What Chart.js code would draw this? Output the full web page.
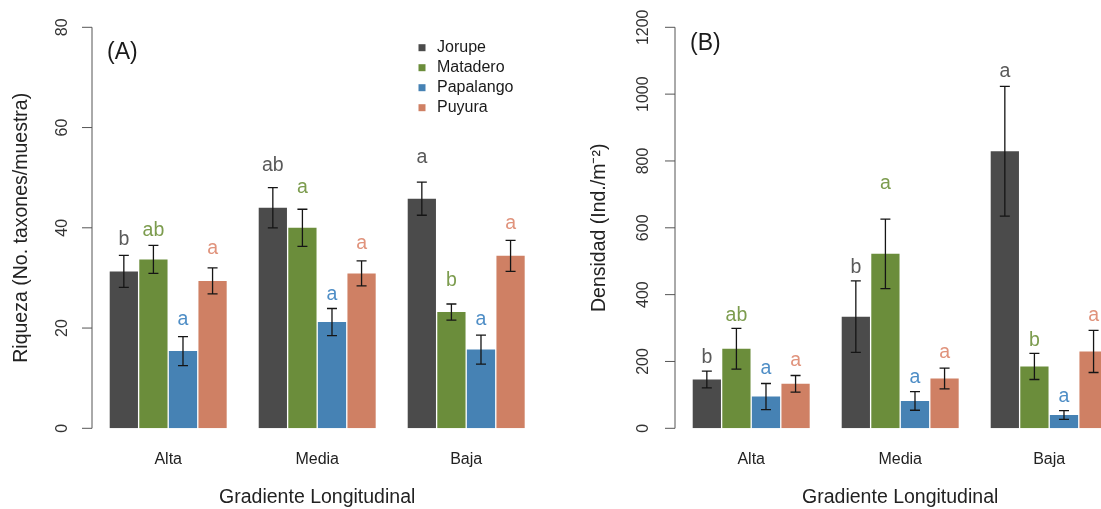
<!DOCTYPE html>
<html>
<head>
<meta charset="utf-8">
<script src="https://cdn.jsdelivr.net/npm/chart.js@4/dist/chart.umd.min.js"></script>
<style>
html,body{margin:0;padding:0;background:#fff;overflow:hidden;width:1101px;height:509px}
.panel{position:absolute;top:0;width:550px;height:509px}
#pA{left:0}
#pB{left:583px}
</style>
</head>
<body>
<div class="panel" id="pA"><canvas id="cA" width="550" height="509"></canvas></div>
<div class="panel" id="pB"><canvas id="cB" width="550" height="509"></canvas></div>
<script>
// ===================== DATOS =====================
const zonas=['Alta','Media','Baja'];
const sitios=['Jorupe','Matadero','Papalango','Puyura'];

// (A) riqueza: media y error estandar por sitio
const riqJorupe=[31.3,44.0,45.8];
const riqMatadero=[33.7,40.0,23.2];
const riqPapalango=[15.4,21.2,15.7];
const riqPuyura=[29.4,30.9,34.4];
const errRiqJorupe=[3.2,4.0,3.3];
const errRiqMatadero=[2.8,3.7,1.6];
const errRiqPapalango=[2.9,2.7,2.9];
const errRiqPuyura=[2.6,2.5,3.1];
const letRiqJorupe=['b','ab','a'];
const letRiqMatadero=['ab','a','b'];
const letRiqPapalango=['a','a','a'];
const letRiqPuyura=['a','a','a'];
// altura (en unidades del eje) donde va cada letra
const posLetRiqJorupe=[36.6,51.4,52.9];
const posLetRiqMatadero=[38.4,46.9,28.4];
const posLetRiqPapalango=[20.6,25.6,20.7];
const posLetRiqPuyura=[34.8,35.8,39.7];
const ticksRiq=[0,20,40,60,80];

// (B) densidad
const denJorupe=[146,334,829];
const denMatadero=[238,522,185];
const denPapalango=[95,82,40];
const denPuyura=[133,149,230];
const errDenJorupe=[25,107,194];
const errDenMatadero=[61,104,39];
const errDenPapalango=[39,28,13];
const errDenPuyura=[25,31,63];
const letDenJorupe=['b','b','a'];
const letDenMatadero=['ab','a','b'];
const letDenPapalango=['a','a','a'];
const letDenPuyura=['a','a','a'];
const posLetDenJorupe=[194,464,1050];
const posLetDenMatadero=[322,715,246];
const posLetDenPapalango=[162,136,80];
const posLetDenPuyura=[187,209,322];
const ticksDen=[0,200,400,600,800,1000,1200];

// ===================== ESTILO =====================
const FONT='"Liberation Sans", Arial, Helvetica, sans-serif';
const colores=['#4b4b4b','#6b8d3b','#4682b4','#cf8064'];
const coloresLetra=['#5a5a5a','#7c9c4e','#4f8ec6','#e0937c'];
const AXIS_GAP=1.7;

// error bars, letras, eje y estilo R, etiqueta de panel, leyenda
function extras(o){
  return {id:'extras',afterDraw(chart){
    const ctx=chart.ctx, ys=chart.scales.y, ca=chart.chartArea;
    ctx.save();
    sitios.forEach((s,i)=>{
      chart.getDatasetMeta(i).data.forEach((bar,j)=>{
        const v=o.valores[i][j], e=o.errores[i][j];
        const yT=ys.getPixelForValue(v+e), yB=ys.getPixelForValue(v-e);
        ctx.strokeStyle='#151515';ctx.lineWidth=1.3;
        ctx.beginPath();
        ctx.moveTo(bar.x,yT);ctx.lineTo(bar.x,yB);
        ctx.moveTo(bar.x-5,yT);ctx.lineTo(bar.x+5,yT);
        ctx.moveTo(bar.x-5,yB);ctx.lineTo(bar.x+5,yB);
        ctx.stroke();
        ctx.fillStyle=coloresLetra[i];ctx.font='19.5px '+FONT;
        ctx.textAlign='center';ctx.textBaseline='alphabetic';
        ctx.fillText(o.letras[i][j],bar.x,ys.getPixelForValue(o.posLetras[i][j]));
      });
    });
    // eje y
    const ax=ca.left-AXIS_GAP;
    const yMin=ys.getPixelForValue(o.ticks[0]), yMax=ys.getPixelForValue(o.ticks[o.ticks.length-1]);
    ctx.strokeStyle='#555';ctx.lineWidth=1;
    ctx.beginPath();ctx.moveTo(ax,yMin);ctx.lineTo(ax,yMax);
    o.ticks.forEach(t=>{const y=ys.getPixelForValue(t);ctx.moveTo(ax-10,y);ctx.lineTo(ax,y);});
    ctx.stroke();
    ctx.fillStyle='#333';ctx.font='16px '+FONT;ctx.textAlign='center';ctx.textBaseline='middle';
    o.ticks.forEach(t=>{
      ctx.save();ctx.translate(ax-o.tickDist,ys.getPixelForValue(t));ctx.rotate(-Math.PI/2);
      ctx.fillText(String(t),0,0);ctx.restore();
    });
    // (A) / (B)
    ctx.fillStyle='#1a1a1a';ctx.font='23px '+FONT;ctx.textAlign='left';ctx.textBaseline='middle';
    ctx.fillText(o.etiqueta,ax+15,o.etiquetaY);
    // leyenda
    if(o.leyenda){
      ctx.font='16px '+FONT;
      chart.data.datasets.forEach((d,i)=>{
        const y=47.7+i*20;
        ctx.fillStyle=d.backgroundColor;ctx.fillRect(ax+326.5,y-3.5,7,7);
        ctx.fillStyle='#1a1a1a';ctx.fillText(d.label,ax+345,y);
      });
    }
    ctx.restore();
  }};
}

function buildChart(id,o){
  const datasets=sitios.map((s,i)=>({label:s,data:o.valores[i],backgroundColor:colores[i],
    barPercentage:0.955,categoryPercentage:0.794}));
  return new Chart(document.getElementById(id),{type:'bar',
    data:{labels:zonas,datasets},
    options:{responsive:false,animation:false,devicePixelRatio:1,
      layout:{padding:{top:27.3,right:9.3,left:0,bottom:0}},
      plugins:{legend:{display:false},tooltip:{enabled:false}},
      scales:{
        x:{grid:{display:false,drawTicks:false},border:{display:false},
           ticks:{color:'#222',font:{family:FONT,size:16},padding:21.4},
           title:{display:true,text:'Gradiente Longitudinal',color:'#222',font:{family:FONT,size:19.5},padding:0},
           afterFit:s=>{s.height=80.7}},
        y:{min:o.ticks[0],max:o.ticks[o.ticks.length-1],
           afterBuildTicks:s=>{s.ticks=o.ticks.map(v=>({value:v}))},
           grid:{display:false},border:{display:false},ticks:{display:false},
           title:{display:true,text:o.tituloY,color:'#222',font:{family:FONT,size:19.5},padding:{top:o.tituloPad,bottom:0}},
           afterFit:s=>{s.width=93.7}}
      }},
    plugins:[extras(o)]
  });
}

buildChart('cA',{
  valores:[riqJorupe,riqMatadero,riqPapalango,riqPuyura],
  errores:[errRiqJorupe,errRiqMatadero,errRiqPapalango,errRiqPuyura],
  letras:[letRiqJorupe,letRiqMatadero,letRiqPapalango,letRiqPuyura],
  posLetras:[posLetRiqJorupe,posLetRiqMatadero,posLetRiqPapalango,posLetRiqPuyura],
  ticks:ticksRiq,tituloY:'Riqueza (No. taxones/muestra)',tituloPad:10,
  etiqueta:'(A)',etiquetaY:52.5,tickDist:29,leyenda:true
});
buildChart('cB',{
  valores:[denJorupe,denMatadero,denPapalango,denPuyura],
  errores:[errDenJorupe,errDenMatadero,errDenPapalango,errDenPuyura],
  letras:[letDenJorupe,letDenMatadero,letDenPapalango,letDenPuyura],
  posLetras:[posLetDenJorupe,posLetDenMatadero,posLetDenPapalango,posLetDenPuyura],
  ticks:ticksDen,tituloY:'Densidad (Ind./m\u207B\u00B2)',tituloPad:5,
  etiqueta:'(B)',etiquetaY:44,tickDist:31,leyenda:false
});
</script>
</body>
</html>
